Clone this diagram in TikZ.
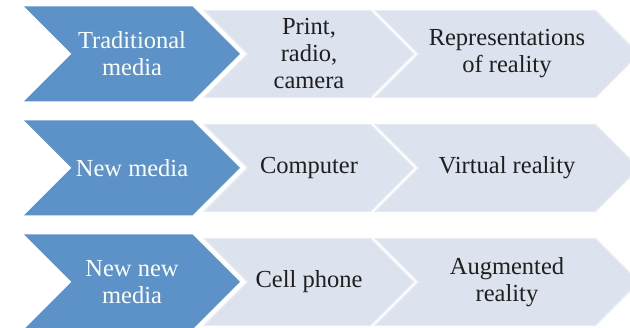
\documentclass[tikz,border=0pt]{standalone}
\usepackage{fontspec}
\setmainfont{LiberationSerif-Regular.ttf}
\usepackage{tikz}
\usetikzlibrary{shapes.symbols}
\definecolor{leadblue}{RGB}{92,146,199}
\definecolor{paleblue}{RGB}{220,226,238}
\definecolor{paleedge}{RGB}{232,236,244}
\tikzstyle{chev} = [signal,signal from=west,signal to=east,signal pointer angle=90,inner sep=0pt,align=center,font=\fontsize{24.5}{27}\selectfont]
\tikzstyle{lead} = [chev,fill=leadblue,text=white,minimum height=95pt]
\tikzstyle{stage} = [chev,fill=paleblue,draw=paleedge,line width=1.2pt,text={black!88},minimum height=87pt]

\begin{document}
\begin{tikzpicture}[x=1pt,y=-1pt]
    \useasboundingbox (0,0) rectangle (630,328);
    \clip (0,0) rectangle (630,328);

    \node[lead,minimum width=216pt] (trad) at (132,54) {Traditional\\media};
    \node[stage,minimum width=210pt] (tradtool) at (309,54) {Print,\\radio,\\camera};
    \node[stage,minimum width=264pt] (tradreal) at (507,54) {Representations\\of reality};

    \node[lead,minimum width=216pt] (new) at (132,168) {New media};
    \node[stage,minimum width=210pt] (newtool) at (309,168) {Computer};
    \node[stage,minimum width=264pt] (newreal) at (507,168) {Virtual reality};

    \node[lead,minimum width=216pt] (newnew) at (132,282) {New new\\media};
    \node[stage,minimum width=210pt] (newnewtool) at (309,282) {Cell phone};
    \node[stage,minimum width=264pt] (newnewreal) at (507,282) {Augmented\\reality};

\end{tikzpicture}
\end{document}
